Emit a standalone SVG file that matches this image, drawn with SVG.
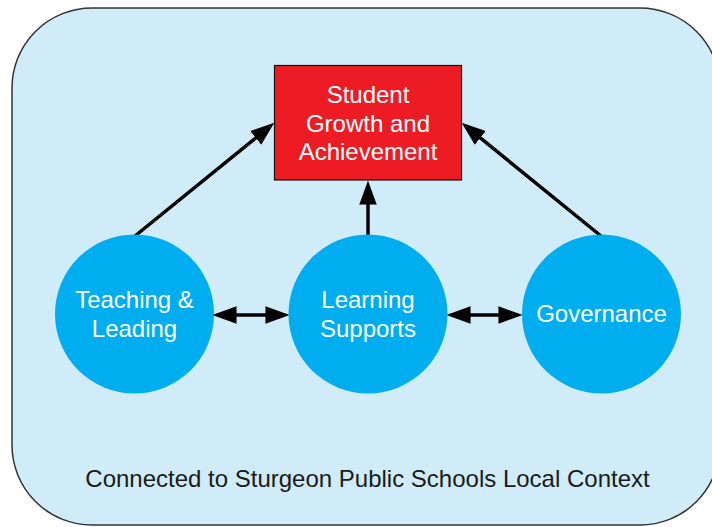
<svg xmlns="http://www.w3.org/2000/svg" width="712" height="527" viewBox="0 0 712 527">
<style>
.bg{fill:#d0ecf8;stroke:#333;stroke-width:1.5}
.node{fill:#00adee}
.box{fill:#ed1c24;stroke:#111;stroke-width:1.2}
.lbl{font-family:"Liberation Sans",Arial,sans-serif;font-size:24px;fill:#fff;text-anchor:middle}
.foot{font-family:"Liberation Sans",Arial,sans-serif;font-size:24px;fill:#1a1a1a;text-anchor:middle}
.conn{stroke:#000;stroke-width:3.5;fill:none}
</style>
<defs>
<marker id="ah" markerUnits="userSpaceOnUse" markerWidth="24" markerHeight="18" viewBox="0 0 22 16" refX="17" refY="8" orient="auto-start-reverse">
<path d="M0,0 L22,8 L0,16 z" fill="#000"/>
</marker>
</defs>
<rect class="bg" x="12" y="8" width="708" height="517" rx="80" ry="80"/>
<g id="connectors">
<line class="conn" x1="135" y1="236" x2="270.1" y2="126.2" marker-end="url(#ah)"/>
<line class="conn" x1="368" y1="235" x2="368" y2="186" marker-end="url(#ah)"/>
<line class="conn" x1="601" y1="236" x2="465.9" y2="126.2" marker-end="url(#ah)"/>
<line class="conn" x1="218" y1="315" x2="284" y2="315" marker-start="url(#ah)" marker-end="url(#ah)"/>
<line class="conn" x1="452" y1="315" x2="517" y2="315" marker-start="url(#ah)" marker-end="url(#ah)"/>
</g>
<g id="student-growth">
<rect class="box" x="274.5" y="65.5" width="187" height="114.5"/>
<text class="lbl" x="368" y="103">Student</text>
<text class="lbl" x="368" y="131.5">Growth and</text>
<text class="lbl" x="368" y="160">Achievement</text>
</g>
<g id="teaching-leading">
<circle class="node" cx="134.5" cy="314" r="79.5"/>
<text class="lbl" x="134.5" y="308.3">Teaching &amp;</text>
<text class="lbl" x="134.5" y="336.7">Leading</text>
</g>
<g id="learning-supports">
<circle class="node" cx="368" cy="314" r="79.5"/>
<text class="lbl" x="368" y="308.3">Learning</text>
<text class="lbl" x="368" y="336.7">Supports</text>
</g>
<g id="governance">
<circle class="node" cx="601.5" cy="314" r="79.5"/>
<text class="lbl" x="601.5" y="322">Governance</text>
</g>
<g id="context">
<text class="foot" x="367.5" y="487">Connected to Sturgeon Public Schools Local Context</text>
</g>
</svg>
